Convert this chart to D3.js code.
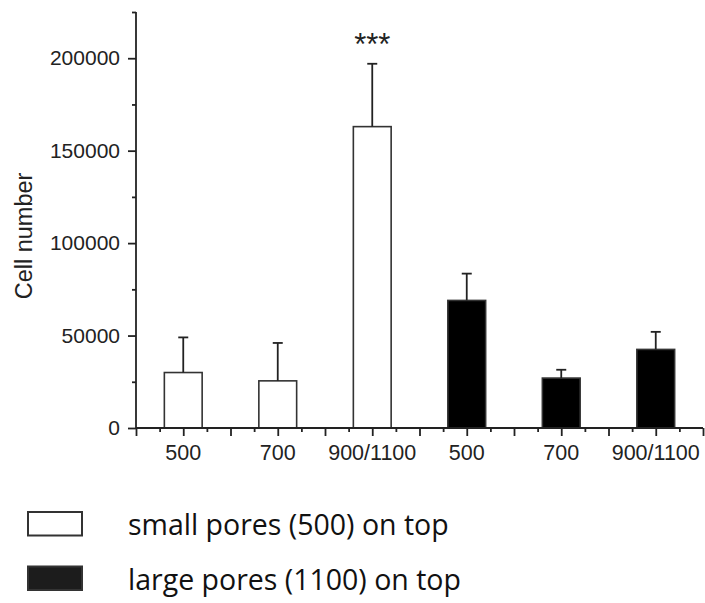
<!DOCTYPE html>
<html>
<head>
<meta charset="utf-8">
<script src="https://cdn.jsdelivr.net/npm/d3@7"></script>
<style>
  html, body { margin: 0; padding: 0; background: #fff; }
  svg { display: block; }
</style>
</head>
<body>
<svg id="chart" width="705" height="603"></svg>
<script>
// ---- data ----
const categories = ["500", "700", "900/1100", "500", "700", "900/1100"];
const groups = ["small", "small", "small", "large", "large", "large"];
const means = [30000, 25500, 163000, 69000, 27000, 42500];
const errorTops = [49000, 46000, 197000, 83500, 31500, 52000];
const significance = ["", "", "***", "", "", ""];
const yTicksMajor = [0, 50000, 100000, 150000, 200000];
const yTicksMinor = [25000, 75000, 125000, 175000, 225000];
const legendLabels = ["small pores (500) on top", "large pores (1100) on top"];
const legendGroups = ["small", "large"];

// ---- layout ----
const svg = d3.select("#chart");
const x0 = 136, x1 = 703, yTop = 12, yBase = 428;
const axisColor = "#222";
const tickFont = "'Liberation Sans', Arial, Helvetica, sans-serif";

const y = d3.scaleLinear().domain([0, 225000]).range([yBase, yTop]);
const xBand = d3.scaleBand().domain(d3.range(categories.length))
  .range([x0, x1]).paddingInner(0.6).paddingOuter(0.3);
const xLin = d3.scaleLinear().domain([0, categories.length]).range([x0, x1]);

const fillFor = g => g === "small" ? "#fff" : "#000";

// bars
const bars = svg.append("g");
bars.selectAll("rect").data(means).join("rect")
  .attr("x", (d, i) => xBand(i))
  .attr("y", d => y(d))
  .attr("width", xBand.bandwidth())
  .attr("height", d => y(0) - y(d))
  .attr("fill", (d, i) => fillFor(groups[i]))
  .attr("stroke", "#333")
  .attr("stroke-width", 1.6);

// error bars (upper only)
const eb = svg.append("g").attr("stroke", "#222").attr("stroke-width", 1.8);
errorTops.forEach((e, i) => {
  const cx = xBand(i) + xBand.bandwidth() / 2;
  eb.append("line").attr("x1", cx).attr("x2", cx).attr("y1", y(means[i])).attr("y2", y(e));
  eb.append("line").attr("x1", cx - 5).attr("x2", cx + 5).attr("y1", y(e)).attr("y2", y(e));
});

// significance marks
svg.append("g").selectAll("text").data(significance).join("text")
  .attr("x", (d, i) => xBand(i) + xBand.bandwidth() / 2)
  .attr("y", (d, i) => y(errorTops[i]) - 9)
  .attr("text-anchor", "middle")
  .attr("font-family", tickFont)
  .attr("font-size", 31)
  .attr("fill", "#222")
  .text(d => d);

// y axis
const yAxisG = svg.append("g").attr("transform", `translate(${x0},0)`);
yAxisG.call(d3.axisLeft(y).tickValues(yTicksMajor).tickSize(8).tickPadding(8).tickFormat(d3.format("d")));
yAxisG.append("g").call(d3.axisLeft(y).tickValues(yTicksMinor).tickSize(4).tickFormat(""))
  .select(".domain").remove();
yAxisG.selectAll("path.domain").attr("d", `M0,${yTop}V${yBase}`);
yAxisG.selectAll("text").attr("font-size", 21).attr("font-family", tickFont).attr("fill", "#222");
yAxisG.selectAll("line, path").attr("stroke", axisColor).attr("stroke-width", 1.8);

// x axis
const xAxisG = svg.append("g").attr("transform", `translate(0,${yBase})`);
xAxisG.call(d3.axisBottom(xLin).tickValues(d3.range(0, categories.length + 0.01, 0.5)).tickSize(8).tickFormat(""));
xAxisG.append("g").call(d3.axisBottom(xLin).tickValues(d3.range(0.25, categories.length, 0.5)).tickSize(4).tickFormat(""))
  .select(".domain").remove();
xAxisG.selectAll("path.domain").attr("d", `M${x0},0H${x1}`);
xAxisG.selectAll("line, path").attr("stroke", axisColor).attr("stroke-width", 1.8);

const xLabelG = svg.append("g").attr("transform", `translate(0,${yBase})`);
xLabelG.call(d3.axisBottom(xBand).tickSize(0).tickPadding(17).tickFormat(i => categories[i]));
xLabelG.select(".domain").remove();
xLabelG.selectAll("text").attr("font-size", 21.5).attr("font-family", tickFont).attr("fill", "#222");

// y title
svg.append("text")
  .attr("transform", `translate(32,236) rotate(-90)`)
  .attr("text-anchor", "middle")
  .attr("font-family", tickFont)
  .attr("font-size", 23.5)
  .attr("fill", "#222")
  .text("Cell number");

// legend
const legend = svg.append("g");
legendLabels.forEach((lab, i) => {
  const ly = 512 + i * 54.5;
  legend.append("rect")
    .attr("x", 28).attr("y", ly).attr("width", 54).attr("height", 23.5)
    .attr("fill", legendGroups[i] === "small" ? "#fff" : "#1c1c1c")
    .attr("stroke", "#333").attr("stroke-width", 2);
  legend.append("text")
    .attr("x", 128).attr("y", ly + 23)
    .attr("font-family", "'Open Sans', 'Noto Sans', sans-serif")
    .attr("font-size", 28.5)
    .attr("fill", "#111")
    .text(lab);
});
</script>
</body>
</html>
